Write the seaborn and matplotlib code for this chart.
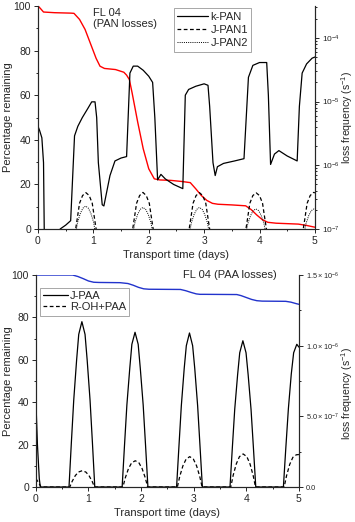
import matplotlib
matplotlib.use('Agg')
import matplotlib.pyplot as plt
from matplotlib.ticker import MultipleLocator, LogLocator, NullFormatter, FixedLocator, FixedFormatter
import seaborn as sns

#%% DATOS
# = = = = =

# Panel superior: PAN
t_pan = [0, 0.04, 0.1, 0.3, 0.6, 0.65, 0.75, 0.85, 0.95, 1.05, 1.12, 1.2, 1.4, 1.55, 1.6, 1.65, 1.7, 1.8, 1.9, 2.0,
         2.1, 2.2, 2.4, 2.6, 2.75, 2.85, 2.95, 3.05, 3.15, 3.25, 3.5, 3.75, 3.85, 3.95, 4.05, 4.15, 4.3, 4.7, 4.85, 5.0]
pan_pct = [100, 99, 97.3, 97, 96.8, 96.7, 94, 89.5, 83, 76.5, 73, 72, 71.5, 70.3, 69, 67, 61, 48, 36, 27,
           22.5, 22, 21.8, 21.3, 20.8, 18, 15, 12.8, 11.5, 11.1, 10.8, 10.4, 8.7, 6.3, 4.2, 3.0, 2.6, 2.2, 1.6, 0.8]

t_kpan = [0.0, 0.03, 0.07, 0.10, 0.125, 0.38, 0.40, 0.50, 0.59, 0.66, 0.72, 0.80, 0.90, 0.97, 1.03, 1.06, 1.09,
          1.16, 1.19, 1.30, 1.39, 1.50, 1.60, 1.66, 1.72, 1.80, 1.90, 2.00, 2.07, 2.11, 2.16, 2.22, 2.30, 2.45,
          2.615, 2.66, 2.72, 2.85, 3.00, 3.07, 3.10, 3.16, 3.20, 3.24, 3.35, 3.55, 3.72, 3.80, 3.88, 4.00, 4.13,
          4.16, 4.20, 4.27, 4.35, 4.50, 4.68, 4.72, 4.77, 4.85, 4.95, 5.00]
k_pan = [4.1e-6, 3.5e-6, 2.7e-6, 1.1e-6, 1e-8, 1e-8, 1.0e-7, 1.15e-7, 1.35e-7, 2.9e-6, 4.1e-6, 5.6e-6, 7.8e-6,
         9.9e-6, 9.9e-6, 5.6e-6, 1.1e-6, 2.4e-7, 2.3e-7, 6.9e-7, 1.17e-6, 1.3e-6, 1.37e-6, 2.8e-5, 3.6e-5,
         3.6e-5, 3.1e-5, 2.5e-5, 2.0e-5, 5.6e-6, 5.9e-7, 7.2e-7, 6.1e-7, 5.0e-7, 4.3e-7, 1.26e-5, 1.55e-5,
         1.74e-5, 1.9e-5, 1.8e-5, 8.4e-6, 1.1e-6, 6.9e-7, 9.5e-7, 1.07e-6, 1.17e-6, 1.27e-6, 2.4e-5, 3.7e-5,
         4.1e-5, 4.1e-5, 1.26e-5, 1.03e-6, 1.5e-6, 1.7e-6, 1.4e-6, 1.17e-6, 8.4e-6, 2.8e-5, 3.9e-5, 4.8e-5, 5.0e-5]

t_jpan1 = [0.0, 0.02,
           0.645, 0.68, 0.705, 0.75, 0.805, 0.865, 0.925, 0.98, 1.025, 1.05, 1.085,
           1.675, 1.71, 1.735, 1.78, 1.835, 1.895, 1.955, 2.01, 2.055, 2.08, 2.115,
           2.695, 2.73, 2.755, 2.80, 2.855, 2.915, 2.975, 3.03, 3.075, 3.10, 3.135,
           3.72, 3.755, 3.78, 3.825, 3.88, 3.94, 4.0, 4.055, 4.10, 4.125, 4.16,
           4.755, 4.79, 4.815, 4.86, 4.915, 4.975, 5.0]
j_pan1 = [1.55e-7, 1e-8,
          1e-8, 1e-7, 1.38e-7, 2.53e-7, 3.35e-7, 3.72e-7, 3.35e-7, 2.53e-7, 1.38e-7, 1e-7, 1e-8,
          1e-8, 1e-7, 1.38e-7, 2.53e-7, 3.35e-7, 3.75e-7, 3.35e-7, 2.53e-7, 1.38e-7, 1e-7, 1e-8,
          1e-8, 1e-7, 1.38e-7, 2.53e-7, 3.35e-7, 3.72e-7, 3.35e-7, 2.53e-7, 1.38e-7, 1e-7, 1e-8,
          1e-8, 1e-7, 1.38e-7, 2.53e-7, 3.35e-7, 3.69e-7, 3.35e-7, 2.53e-7, 1.38e-7, 1e-7, 1e-8,
          1e-8, 1e-7, 1.38e-7, 2.53e-7, 3.35e-7, 3.75e-7, 3.7e-7]

t_jpan2 = [0.0, 0.015,
           0.675, 0.695, 0.715, 0.765, 0.81, 0.86, 0.91, 0.955, 1.005, 1.025, 1.045,
           1.71, 1.73, 1.75, 1.80, 1.845, 1.895, 1.945, 1.99, 2.04, 2.06, 2.08,
           2.73, 2.75, 2.77, 2.82, 2.865, 2.915, 2.965, 3.01, 3.06, 3.08, 3.10,
           3.75, 3.77, 3.79, 3.84, 3.885, 3.935, 3.985, 4.03, 4.08, 4.10, 4.12,
           4.80, 4.82, 4.84, 4.89, 4.935, 4.985, 5.0]
j_pan2 = [1.27e-7, 1e-8,
          1e-8, 1e-7, 1.27e-7, 1.76e-7, 2.12e-7, 2.29e-7, 2.12e-7, 1.76e-7, 1.27e-7, 1e-7, 1e-8,
          1e-8, 1e-7, 1.25e-7, 1.7e-7, 2.03e-7, 2.18e-7, 2.03e-7, 1.7e-7, 1.25e-7, 1e-7, 1e-8,
          1e-8, 1e-7, 1.25e-7, 1.7e-7, 2.03e-7, 2.18e-7, 2.03e-7, 1.7e-7, 1.25e-7, 1e-7, 1e-8,
          1e-8, 1e-7, 1.22e-7, 1.63e-7, 1.94e-7, 2.07e-7, 1.94e-7, 1.63e-7, 1.22e-7, 1e-7, 1e-8,
          1e-8, 1e-7, 1.22e-7, 1.63e-7, 1.94e-7, 2.07e-7, 2.06e-7]

# Panel inferior: PAA
t_paa = [0, 0.7, 0.8, 0.9, 1.0, 1.1, 1.2, 1.6, 1.75, 1.85, 1.95, 2.05, 2.15, 2.75, 2.85, 2.95, 3.05, 3.12, 3.2,
         3.82, 3.9, 4.0, 4.1, 4.2, 4.3, 4.75, 4.85, 4.95, 5.0]
paa_pct = [100, 100, 99.3, 98.3, 97.2, 96.6, 96.5, 96.4, 96.0, 95.2, 94.2, 93.5, 93.3, 93.2, 92.6, 91.8, 91.1,
           90.9, 90.9, 90.8, 90.3, 89.4, 88.5, 87.9, 87.7, 87.6, 87.2, 86.5, 86.2]

t_jpaa = [0, 0.03, 0.065, 0.085,
          0.63, 0.675, 0.72, 0.775, 0.815, 0.875, 0.935, 0.975, 1.03, 1.075, 1.12,
          1.64, 1.685, 1.73, 1.785, 1.825, 1.885, 1.945, 1.985, 2.04, 2.085, 2.13,
          2.675, 2.72, 2.765, 2.82, 2.86, 2.92, 2.98, 3.02, 3.075, 3.12, 3.165,
          3.69, 3.735, 3.78, 3.835, 3.875, 3.935, 3.995, 4.035, 4.09, 4.135, 4.18,
          4.705, 4.75, 4.8, 4.855, 4.9, 4.96, 5.0]
j_paa = [6.15e-7, 3.0e-7, 6e-8, 0,
         0, 3.15e-7, 6.15e-7, 9.0e-7, 1.08e-6, 1.17e-6, 1.08e-6, 9.0e-7, 6.15e-7, 3.15e-7, 0,
         0, 2.95e-7, 5.8e-7, 8.4e-7, 1.01e-6, 1.095e-6, 1.01e-6, 8.4e-7, 5.8e-7, 2.95e-7, 0,
         0, 2.9e-7, 5.75e-7, 8.4e-7, 1.0e-6, 1.09e-6, 1.0e-6, 8.4e-7, 5.75e-7, 2.9e-7, 0,
         0, 2.8e-7, 5.5e-7, 7.95e-7, 9.5e-7, 1.035e-6, 9.5e-7, 7.95e-7, 5.5e-7, 2.8e-7, 0,
         0, 2.7e-7, 5.55e-7, 8.0e-7, 9.5e-7, 1.01e-6, 9.9e-7]

t_ohpaa = [0, 0.04, 0.1,
           0.645, 0.69, 0.75, 0.81, 0.88, 0.95, 1.01, 1.07, 1.115,
           1.655, 1.70, 1.76, 1.82, 1.89, 1.96, 2.02, 2.08, 2.125,
           2.69, 2.735, 2.795, 2.855, 2.925, 2.995, 3.055, 3.115, 3.16,
           3.705, 3.75, 3.81, 3.87, 3.94, 4.01, 4.07, 4.13, 4.175,
           4.72, 4.765, 4.825, 4.885, 4.95, 5.0]
oh_paa = [6e-8, 3.8e-8, 0,
          0, 4.0e-8, 8.1e-8, 1.06e-7, 1.155e-7, 1.06e-7, 8.1e-8, 4.0e-8, 0,
          0, 6.5e-8, 1.3e-7, 1.71e-7, 1.86e-7, 1.71e-7, 1.3e-7, 6.5e-8, 0,
          0, 7.5e-8, 1.5e-7, 1.97e-7, 2.15e-7, 1.97e-7, 1.5e-7, 7.5e-8, 0,
          0, 8.2e-8, 1.64e-7, 2.15e-7, 2.34e-7, 2.15e-7, 1.64e-7, 8.2e-8, 0,
          0, 8.0e-8, 1.6e-7, 2.1e-7, 2.28e-7, 2.3e-7]

# Etiquetas eje derecho inferior
ticks_der_inf = [0, 5e-7, 1e-6, 1.5e-6]
etiq_der_inf = ['0.0', r'$5.0\times10^{-7}$', r'$1.0\times10^{-6}$', r'$1.5\times10^{-6}$']

#%% ESTILO
# = = = = =

sns.set_style('ticks')
plt.rcParams['font.family'] = ['Liberation Sans', 'DejaVu Sans']
plt.rcParams['mathtext.fontset'] = 'custom'
plt.rcParams['mathtext.rm'] = 'Liberation Sans'
plt.rcParams['mathtext.it'] = 'Liberation Sans:italic'
plt.rcParams['mathtext.bf'] = 'Liberation Sans:bold'
plt.rcParams['axes.linewidth'] = 0.8


def estilo_ejes(ax):
    ax.tick_params(which='both', direction='out', width=0.7, labelsize=7.5, pad=2)
    ax.tick_params(which='major', length=3)
    ax.tick_params(which='minor', length=1.6)
    ax.spines['top'].set_visible(False)


fig = plt.figure(figsize=(3.55, 5.22), dpi=100)

#%% PANEL SUPERIOR (PAN)
# = = = = = = = = = = = =

ax1 = fig.add_axes([0.107, 0.5613, 0.780, 0.4272])
ax2 = ax1.twinx()
ax2.set_yscale('log')

sns.lineplot(x=t_pan, y=pan_pct, ax=ax1, color='red', lw=1.0)
sns.lineplot(x=t_kpan, y=k_pan, ax=ax2, color='black', lw=0.9, label='k-PAN')
sns.lineplot(x=t_jpan1, y=j_pan1, ax=ax2, color='black', lw=0.9, linestyle=(0, (3, 2)), label='J-PAN1')
sns.lineplot(x=t_jpan2, y=j_pan2, ax=ax2, color='black', lw=0.7, linestyle=(0, (1, 1.2)), label='J-PAN2')

ax1.set_xlim(0, 5)
ax1.set_ylim(0, 100)
ax2.set_ylim(1e-7, 10 ** -3.5)
ax1.xaxis.set_major_locator(MultipleLocator(1))
ax1.xaxis.set_minor_locator(MultipleLocator(0.5))
ax1.yaxis.set_major_locator(MultipleLocator(20))
ax1.yaxis.set_minor_locator(MultipleLocator(10))
ax2.yaxis.set_major_locator(LogLocator(base=10))
ax2.yaxis.set_minor_locator(LogLocator(base=10, subs=range(2, 10)))
ax2.yaxis.set_minor_formatter(NullFormatter())

estilo_ejes(ax1)
estilo_ejes(ax2)
ax2.tick_params(axis='y', labelsize=6)

ax1.set_xlabel('Transport time (days)', fontsize=8, labelpad=3)
ax1.set_ylabel('Percentage remaining', fontsize=8)
ax2.set_ylabel('loss frequency (s$^{-1}$)', fontsize=7.6)
ax1.yaxis.set_label_coords(-0.09, 0.5)
ax2.yaxis.set_label_coords(1.088, 0.5)

ax1.text(0.197, 0.99, 'FL 04\n(PAN losses)', transform=ax1.transAxes, ha='left', va='top',
         fontsize=8, linespacing=1.1)

h, l = ax2.get_legend_handles_labels()
leg = ax2.legend(h, l, loc='upper right', bbox_to_anchor=(0.77, 0.99), fontsize=8, frameon=True,
                 fancybox=False, framealpha=1, edgecolor='#999999', handlelength=2.8,
                 handletextpad=0.2, labelspacing=0.3, borderpad=0.3, borderaxespad=0)
leg.get_frame().set_linewidth(0.6)

#%% PANEL INFERIOR (PAA)
# = = = = = = = = = = = =

ax3 = fig.add_axes([0.101, 0.067, 0.741, 0.4061])
ax4 = ax3.twinx()

sns.lineplot(x=t_paa, y=paa_pct, ax=ax3, color='#2233cc', lw=1.0)
sns.lineplot(x=t_jpaa, y=j_paa, ax=ax4, color='black', lw=0.9, label='J-PAA')
sns.lineplot(x=t_ohpaa, y=oh_paa, ax=ax4, color='black', lw=0.9, linestyle=(0, (3, 2)), label='R-OH+PAA')

ax3.set_xlim(0, 5)
ax3.set_ylim(0, 100)
ax4.set_ylim(0, 1.5e-6)
ax3.xaxis.set_major_locator(MultipleLocator(1))
ax3.xaxis.set_minor_locator(MultipleLocator(0.5))
ax3.yaxis.set_major_locator(MultipleLocator(20))
ax3.yaxis.set_minor_locator(MultipleLocator(10))
ax4.yaxis.set_major_locator(FixedLocator(ticks_der_inf))
ax4.yaxis.set_major_formatter(FixedFormatter(etiq_der_inf))
ax4.yaxis.set_minor_locator(MultipleLocator(2.5e-7))

estilo_ejes(ax3)
estilo_ejes(ax4)
ax4.tick_params(axis='y', labelsize=5.3)

ax3.set_xlabel('Transport time (days)', fontsize=8, labelpad=3)
ax3.set_ylabel('Percentage remaining', fontsize=8)
ax4.set_ylabel('loss frequency (s$^{-1}$)', fontsize=7.6)
ax3.yaxis.set_label_coords(-0.087, 0.5)
ax4.yaxis.set_label_coords(1.152, 0.44)

ax3.text(0.915, 1.0, 'FL 04 (PAA losses)', transform=ax3.transAxes, ha='right', va='center', fontsize=8)

h, l = ax4.get_legend_handles_labels()
leg = ax4.legend(h, l, loc='upper left', bbox_to_anchor=(0.015, 0.94), fontsize=8, frameon=True,
                 fancybox=False, framealpha=1, edgecolor='#999999', handlelength=2.2,
                 handletextpad=0.2, labelspacing=0.1, borderpad=0.3, borderaxespad=0)
leg.get_frame().set_linewidth(0.6)

plt.savefig('out.png', dpi=100)
